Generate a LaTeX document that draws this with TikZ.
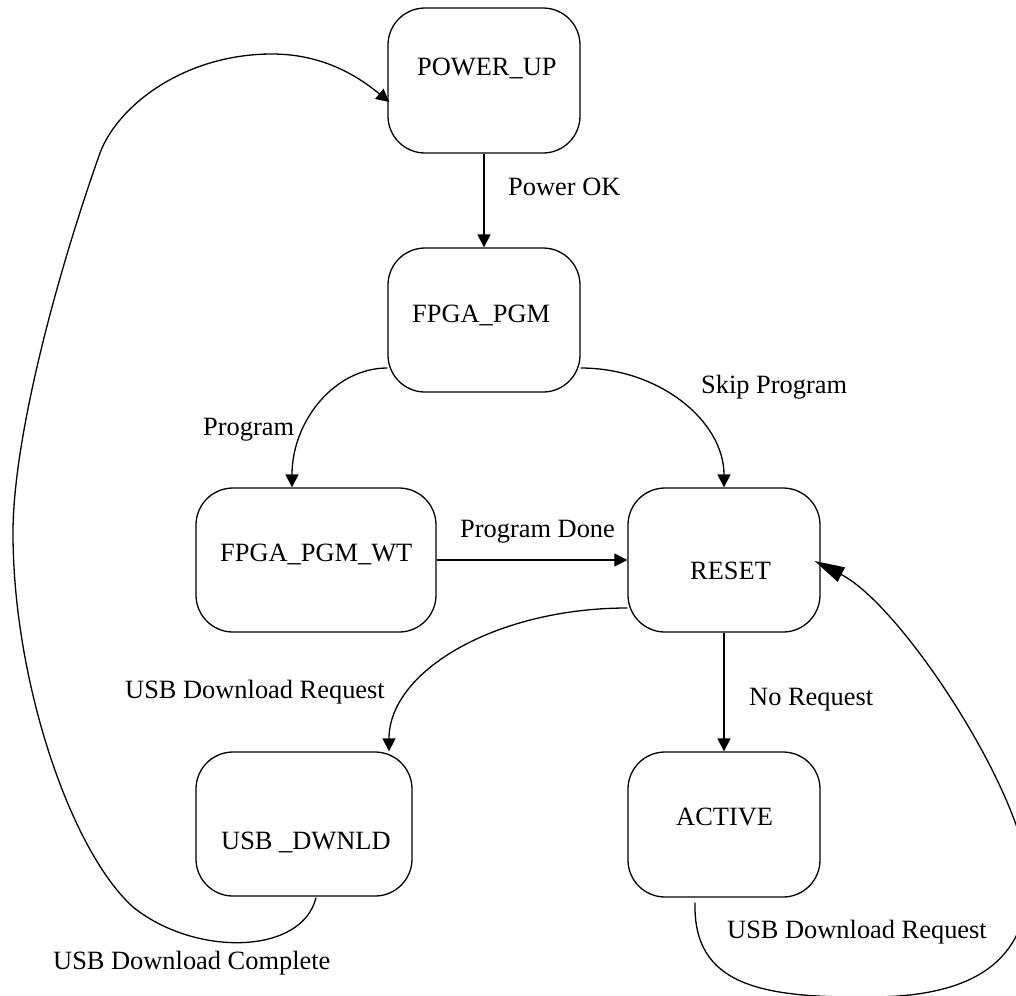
\documentclass[tikz,border=0pt]{standalone}
\usepackage{fontspec}
\setmainfont{Liberation Serif}
\usetikzlibrary{arrows.meta,calc}
\tikzset{
  statebox/.style={draw, line width=1.3bp, rounded corners=37bp, inner sep=0pt},
  txt/.style={anchor=base west, inner sep=0pt, font=\fontsize{26.5pt}{31pt}\selectfont},
  edge/.style={line width=1.3bp, -{Triangle[length=13bp,width=13bp]}},
  bigedge/.style={line width=1.3bp, -{Triangle[length=30bp,width=16bp]}}
}
\begin{document}
\begin{tikzpicture}[x=1bp,y=-1bp]
\useasboundingbox (0,0) rectangle (1016,996);
% state boxes
\node[statebox, minimum width=192bp, minimum height=145bp] (powerup) at (484,80.5) {};
\node[statebox, minimum width=192bp, minimum height=144bp] (fpga) at (484,320) {};
\node[statebox, minimum width=240bp, minimum height=144bp] (wt) at (316,560) {};
\node[statebox, minimum width=192bp, minimum height=144bp] (reset) at (724,560) {};
\node[statebox, minimum width=216bp, minimum height=144bp] (usb) at (304,824) {};
\node[statebox, minimum width=192bp, minimum height=145bp] (active) at (724,824.5) {};
% state names
\node[txt] (powerupT) at (417,75) {POWER\_UP};
\node[txt] (fpgaT) at (412,322) {FPGA\_PGM};
\node[txt] (wtT) at (220,561) {FPGA\_PGM\_WT};
\node[txt] (resetT) at (690,579) {RESET};
\node[txt] (usbT) at (221,849) {USB \_DWNLD};
\node[txt] (activeT) at (676,825) {ACTIVE};
% transitions
\draw[edge] (powerup) -- (fpga);
\draw[edge] ($(fpga.west)+(0,48)$) .. controls +(-53,0) and +(0,-66) .. ($(wt.north)+(-24,0)$);
\draw[edge] ($(fpga.east)+(0,48)$) .. controls +(79,0) and +(0,-66) .. (reset.north);
\draw[edge] (wt) -- (reset);
\draw[edge] ($(reset.west)+(0,48)$) .. controls +(-132,0) and +(0,-80) .. ($(usb.north)+(85,0)$);
\draw[edge] (reset) -- (active);
\draw[bigedge] ($(active.south)+(-29,5)$) .. controls (693,985) and (760,998) .. (870,997)
  .. controls (975,997) and (1028,960) .. (1028,880)
  .. controls (1028,800) and (903,606) .. ($(reset.east)+(-6,1)$);
\draw[edge] ($(usb.south)+(12,1)$) .. controls (302,955) and (195,957) .. (133,907)
  .. controls (70,850) and (13,680) .. (13,533)
  .. controls (13,440) and (55,280) .. (100,153)
  .. controls (118,105) and (185,54) .. (272,54)
  .. controls (325,54) and (360,78) .. ($(powerup.west)+(2,21.5)$);
% transition labels
\node[txt] (lPowerOK) at (508,195) {Power OK};
\node[txt] (lProgram) at (203,435) {Program};
\node[txt] (lSkip) at (701,393) {Skip Program};
\node[txt] (lDone) at (460,537) {Program Done};
\node[txt] (lUsbReq1) at (125,698) {USB Download Request};
\node[txt] (lNoReq) at (749,705) {No Request};
\node[txt] (lUsbReq2) at (727,938) {USB Download Request};
\node[txt] (lComplete) at (53,969) {USB Download Complete};
\end{tikzpicture}
\end{document}
